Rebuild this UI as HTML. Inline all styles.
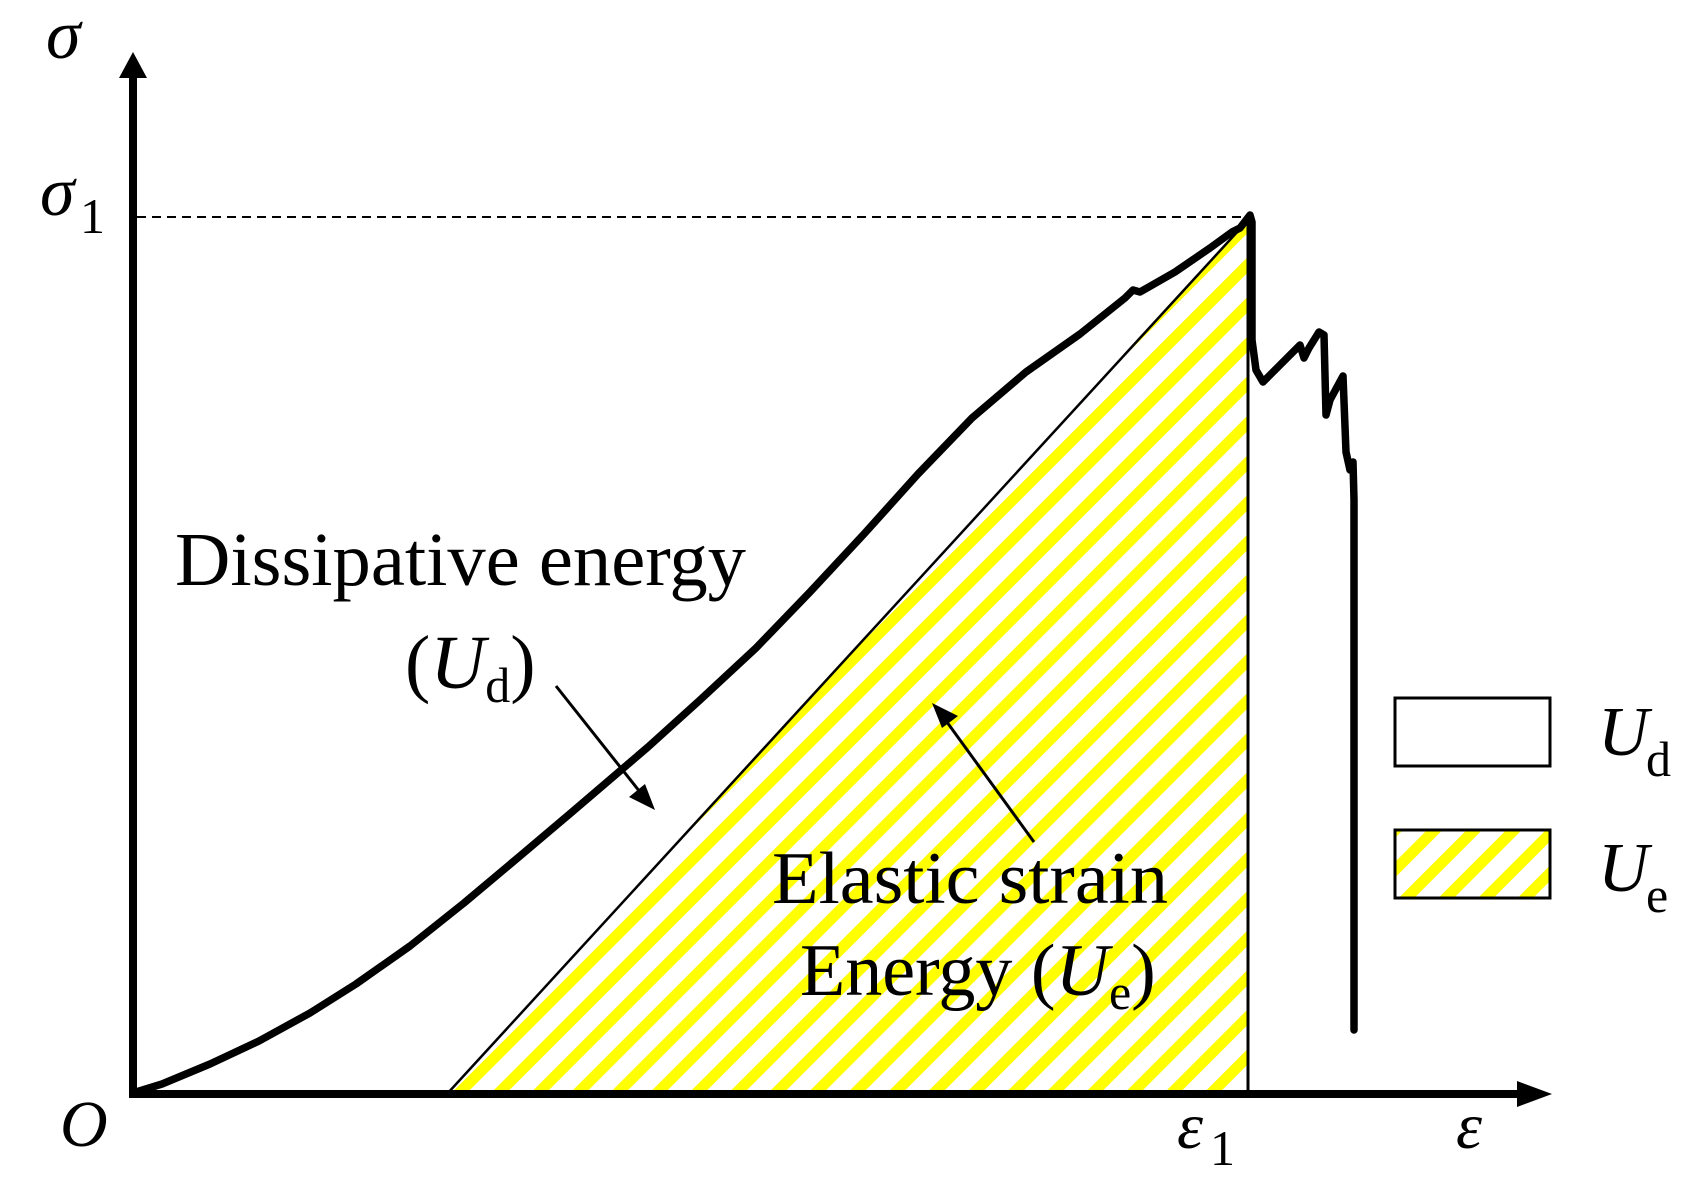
<!DOCTYPE html>
<html><head><meta charset="utf-8"><style>
html,body{margin:0;padding:0;background:#fff}
svg{display:block}
text{font-family:"Liberation Serif","Times New Roman",serif;fill:#000}
</style></head><body>
<svg width="1693" height="1194" viewBox="0 0 1693 1194" xmlns="http://www.w3.org/2000/svg">
<defs>
<pattern id="hatch" patternUnits="userSpaceOnUse" width="28" height="28" patternTransform="rotate(-45)">
<rect x="0" y="0" width="28" height="11" fill="#ffff00"/>
</pattern>
</defs>
<polygon points="447,1094 1248,220 1248,1094" fill="url(#hatch)"/>
<line x1="447" y1="1094" x2="1250" y2="218" stroke="#000" stroke-width="2.5"/>
<line x1="1248" y1="216" x2="1248" y2="1094" stroke="#000" stroke-width="3"/>
<line x1="137" y1="217" x2="1248" y2="217" stroke="#000" stroke-width="2" stroke-dasharray="9,6"/>
<polyline fill="none" stroke="#000" stroke-width="7.5" stroke-linejoin="round" stroke-linecap="round"
points="136,1092 162,1084 210,1064 259,1041 310,1013 356,984 410,946 464,903 520,856 572,812 648,747 700,700 756,648 810,592 864,534 918,474 972,418 1026,372 1080,334 1125,298 1133,290 1140,292 1175,272 1210,248 1232,232 1240,228 1250,215 1252,222 1252,340 1256,370 1263,382 1300,345 1304,358 1309,348 1319,332 1324,335 1326,415 1330,400 1343,376 1346,452 1350,470 1353,462 1354,500 1354,1030"/>
<line x1="133" y1="1098" x2="133" y2="76" stroke="#000" stroke-width="8"/>
<polygon points="133,52 119,78 147,78" fill="#000"/>
<line x1="129" y1="1094" x2="1520" y2="1094" stroke="#000" stroke-width="8"/>
<polygon points="1552,1094 1517,1081 1517,1107" fill="#000"/>
<line x1="556" y1="686" x2="640" y2="792" stroke="#000" stroke-width="3"/>
<polygon points="655,810 629,797 645,784" fill="#000"/>
<line x1="1034" y1="842" x2="944" y2="718" stroke="#000" stroke-width="3"/>
<polygon points="932,703 958,716 942,728" fill="#000"/>
<rect x="1395" y="698" width="155" height="68" fill="#fff" stroke="#000" stroke-width="3"/>
<rect x="1395" y="830" width="155" height="68" fill="url(#hatch)" stroke="#000" stroke-width="3"/>
<text x="175" y="585" font-size="76" textLength="571" lengthAdjust="spacingAndGlyphs">Dissipative energy</text>
<text x="405" y="688" font-size="76">(<tspan font-style="italic">U</tspan><tspan font-size="50" dy="14">d</tspan><tspan dy="-14">)</tspan></text>
<text x="772" y="903" font-size="74" textLength="396" lengthAdjust="spacingAndGlyphs">Elastic strain</text>
<text x="800" y="995" font-size="74">Energy (<tspan font-style="italic">U</tspan><tspan font-size="50" dy="14">e</tspan><tspan dy="-14">)</tspan></text>
<text x="46" y="58" font-size="70" font-style="italic">σ</text>
<text x="40" y="215" font-size="70" font-style="italic">σ</text>
<text x="80" y="233" font-size="50">1</text>
<text x="60" y="1146" font-size="66" font-style="italic">O</text>
<text x="1177" y="1148" font-size="66" font-style="italic">ε</text>
<text x="1210" y="1165" font-size="50">1</text>
<text x="1456" y="1148" font-size="66" font-style="italic">ε</text>
<text x="1598" y="755" font-size="70" font-style="italic">U</text>
<text x="1646" y="776" font-size="50">d</text>
<text x="1598" y="891" font-size="70" font-style="italic">U</text>
<text x="1646" y="912" font-size="50">e</text>
</svg>
</body></html>
